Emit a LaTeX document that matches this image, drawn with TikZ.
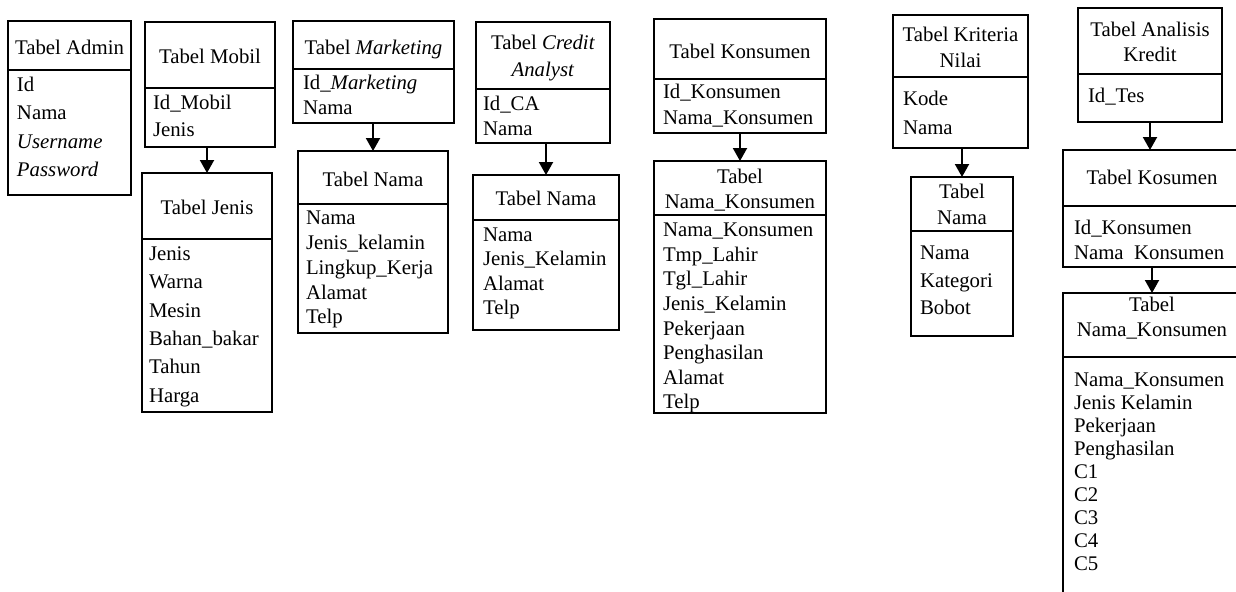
\documentclass[tikz,border=0pt]{standalone}
\usepackage{fontspec}
\setmainfont{Liberation Serif}
\usetikzlibrary{arrows.meta}
\tikzset{
  txt/.style={inner sep=0pt, outer sep=0pt, font=\fontsize{10.4pt}{12pt}\selectfont},
  tbl/.style={draw, line width=1pt, inner sep=0pt, outer sep=0pt, anchor=north west},
  tline/.style={line width=1pt},
  hd/.style={txt, anchor=base, yshift=-3.3pt},
  fld/.style={txt, anchor=base west, yshift=-3.3pt},
  arr/.style={line width=1pt, -{Triangle[width=7pt,length=6.5pt]}},
}
% name, x1, y1, x2, y2, divider y
\newcommand\tbox[6]{%
  \node[tbl, minimum width={(#4-#2)*0.5pt}, minimum height={(#5-#3)*0.5pt}] (#1) at (#2,#3) {};
  \draw[tline] (#1.west |- 0,#6) -- (#1.east |- 0,#6);
}
% name, x, first centre y, step, list
\newcommand\flds[5]{%
  \foreach \t [count=\i] in {#5} {\node[fld] (#1-\i) at (#2, {#3+(\i-1)*#4}) {\t};}
}
\begin{document}
\begin{tikzpicture}[x=0.5pt,y=-0.5pt]
\useasboundingbox (0,0) rectangle (1236,591);
\clip (0,0) rectangle (1236,591);

% Admin
\tbox{admin}{8}{21}{131}{195}{70}
\node[hd] (admin-h) at (admin.north |- 0,48) {Tabel Admin};
\flds{admin}{17}{85}{28.3}{Id,Nama,\textit{Username},\textit{Password}}

% Mobil
\tbox{mobil}{145}{22}{275}{147}{88}
\node[hd] (mobil-h) at (mobil.north |- 0,57) {Tabel Mobil};
\flds{mobil}{153}{103}{27}{Id\_Mobil,Jenis}

% Jenis
\tbox{jenis}{142}{173}{272}{412}{239}
\node[hd] (jenis-h) at (jenis.north |- 0,208) {Tabel Jenis};
\flds{jenis}{149}{254}{28.3}{Jenis,Warna,Mesin,Bahan\_bakar,Tahun,Harga}

% Marketing
\tbox{mkt}{293}{21}{454}{123}{69}
\node[hd] (mkt-h) at (mkt.north |- 0,48) {Tabel \textit{Marketing}};
\flds{mkt}{303}{83}{25}{Id\_\textit{Marketing},Nama}

% Nama (marketing)
\tbox{mnama}{298}{151}{448}{333}{204}
\node[hd] (mnama-h) at (mnama.north |- 0,180) {Tabel Nama};
\flds{mnama}{306}{218}{24.8}{Nama,Jenis\_kelamin,Lingkup\_Kerja,Alamat,Telp}

% Credit Analyst
\tbox{ca}{476}{22}{610}{143}{89}
\node[hd] (ca-h1) at (ca.north |- 0,43) {Tabel \textit{Credit}};
\node[hd] (ca-h2) at (ca.north |- 0,70) {\textit{Analyst}};
\flds{ca}{483}{104}{24.5}{Id\_CA,Nama}

% Nama (CA)
\tbox{cnama}{473}{175}{619}{330}{220}
\node[hd] (cnama-h) at (cnama.north |- 0,199) {Tabel Nama};
\flds{cnama}{483}{235}{24.3}{Nama,Jenis\_Kelamin,Alamat,Telp}

% Konsumen
\tbox{kons}{654}{19}{826}{133}{79}
\node[hd] (kons-h) at (kons.north |- 0,52) {Tabel Konsumen};
\flds{kons}{663}{92}{26}{Id\_Konsumen,Nama\_Konsumen}

% Nama_Konsumen
\tbox{knama}{654}{161}{826}{413}{215}
\node[hd] (knama-h1) at (knama.north |- 0,177) {Tabel};
\node[hd] (knama-h2) at (knama.north |- 0,202) {Nama\_Konsumen};
\flds{knama}{663}{230}{24.6}{Nama\_Konsumen,Tmp\_Lahir,Tgl\_Lahir,Jenis\_Kelamin,Pekerjaan,Penghasilan,Alamat,Telp}

% Kriteria Nilai
\tbox{krit}{893}{15}{1028}{148}{77}
\node[hd] (krit-h1) at (krit.north |- 0,35) {Tabel Kriteria};
\node[hd] (krit-h2) at (krit.north |- 0,61) {Nilai};
\flds{krit}{903}{99}{29}{Kode,Nama}

% Nama (kriteria)
\tbox{krnama}{911}{177}{1013}{336}{231}
\node[hd] (krnama-h1) at (krnama.north |- 0,192) {Tabel};
\node[hd] (krnama-h2) at (krnama.north |- 0,218) {Nama};
\flds{krnama}{920}{253}{27.5}{Nama,Kategori,Bobot}

% Analisis Kredit
\tbox{anal}{1078}{8}{1222}{122}{74}
\node[hd] (anal-h1) at (anal.north |- 0,30) {Tabel Analisis};
\node[hd] (anal-h2) at (anal.north |- 0,55) {Kredit};
\flds{anal}{1088}{96}{25}{Id\_Tes}

% Kosumen
\tbox{kos}{1063}{150}{1241}{267}{206}
\node[hd] (kos-h) at (kos.north |- 0,178) {Tabel Kosumen};
\flds{kos}{1074}{228}{25}{Id\_Konsumen,Nama\ \ Konsumen}

% last Nama_Konsumen
\tbox{last}{1063}{293}{1241}{600}{357}
\node[hd] (last-h1) at (last.north |- 0,305) {Tabel};
\node[hd] (last-h2) at (last.north |- 0,330) {Nama\_Konsumen};
\flds{last}{1074}{380}{23}{Nama\_Konsumen,Jenis Kelamin,Pekerjaan,Penghasilan,C1,C2,C3,C4,C5}

% arrows
\draw[arr] (jenis.north |- mobil.south) -- (jenis.north);
\draw[arr] (mnama.north |- mkt.south) -- (mnama.north);
\draw[arr] (cnama.north |- ca.south) -- (cnama.north);
\draw[arr] (knama.north |- kons.south) -- (knama.north);
\draw[arr] (krnama.north |- krit.south) -- (krnama.north);
\draw[arr] (anal.south) -- (anal.south |- kos.north);
\draw[arr] (kos.south) -- (last.north);
\end{tikzpicture}
\end{document}
